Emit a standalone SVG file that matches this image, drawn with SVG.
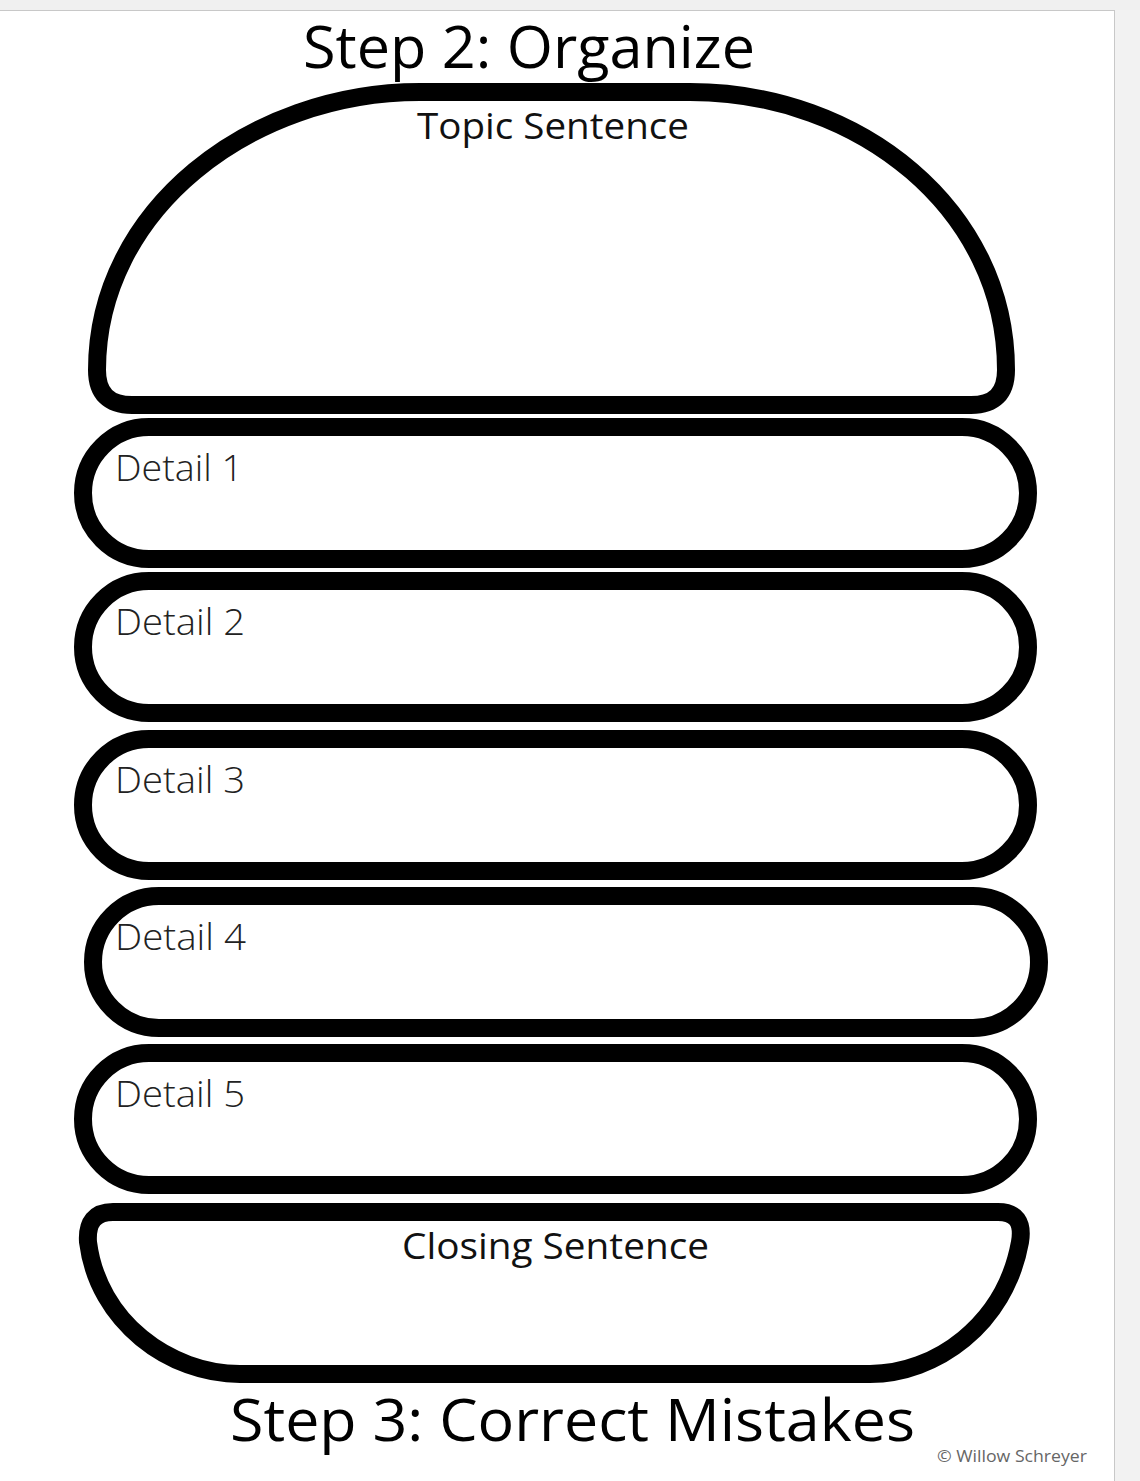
<svg xmlns="http://www.w3.org/2000/svg" width="1140" height="1481" viewBox="0 0 1140 1481">
<style>
.shape{fill:#fff;stroke:#000;stroke-width:18;stroke-linejoin:round}
.title{font-family:"Open Sans","Liberation Sans",sans-serif;font-size:58px;fill:#000}
.label{font-family:"Open Sans","Liberation Sans",sans-serif;font-size:36px;fill:#111}
.detail{font-family:"Open Sans","Liberation Sans",sans-serif;font-size:36px;font-weight:300;fill:#222}
.copy{font-family:"Open Sans","Liberation Sans",sans-serif;font-size:16px;fill:#666}
</style>
<rect x="0" y="0" width="1140" height="1481" fill="#fff"/>
<rect x="0" y="0" width="1140" height="10" fill="#f0f0f0"/>
<line x1="0" y1="10.5" x2="1140" y2="10.5" stroke="#c8c8c8" stroke-width="1"/>
<rect x="1115" y="10" width="25" height="1471" fill="#f2f2f2"/>
<line x1="1114.5" y1="10" x2="1114.5" y2="1481" stroke="#c8c8c8" stroke-width="1"/>

<g id="top-bun">
<path class="shape" d="M97,370 C97,210 250,92 420,92 L690,92 C860,92 1006,210 1006,370 Q1006,405 971,405 L132,405 Q97,405 97,370 Z"/>
<text class="label" x="417" y="139" textLength="272" lengthAdjust="spacingAndGlyphs">Topic Sentence</text>
</g>
<g id="detail-1">
<rect class="shape" x="83" y="427" width="945" height="132" rx="66"/>
<text class="detail" x="115" y="481" textLength="128" lengthAdjust="spacingAndGlyphs">Detail 1</text>
</g>
<g id="detail-2">
<rect class="shape" x="83" y="581" width="945" height="132" rx="66"/>
<text class="detail" x="115" y="635" textLength="130" lengthAdjust="spacingAndGlyphs">Detail 2</text>
</g>
<g id="detail-3">
<rect class="shape" x="83" y="739" width="945" height="132" rx="66"/>
<text class="detail" x="115" y="793" textLength="130" lengthAdjust="spacingAndGlyphs">Detail 3</text>
</g>
<g id="detail-4">
<rect class="shape" x="93" y="896" width="946" height="132" rx="66"/>
<text class="detail" x="115" y="950" textLength="131" lengthAdjust="spacingAndGlyphs">Detail 4</text>
</g>
<g id="detail-5">
<rect class="shape" x="83" y="1053" width="945" height="132" rx="66"/>
<text class="detail" x="115" y="1107" textLength="130" lengthAdjust="spacingAndGlyphs">Detail 5</text>
</g>
<g id="bottom-bun">
<path class="shape" d="M113,1212 L998,1212 Q1025,1212 1020,1242 C1005,1325 935,1374 870,1374 L240,1374 C170,1374 98,1322 88,1242 Q86,1212 113,1212 Z"/>
<text class="label" x="402" y="1259" textLength="307" lengthAdjust="spacingAndGlyphs">Closing Sentence</text>
</g>
<g id="connectors"></g>
<text class="title" x="303" y="68" textLength="452" lengthAdjust="spacingAndGlyphs">Step 2: Organize</text>
<text class="title" x="230" y="1441" font-size="60" textLength="685" lengthAdjust="spacingAndGlyphs">Step 3: Correct Mistakes</text>
<text class="copy" x="937" y="1462" textLength="150" lengthAdjust="spacingAndGlyphs">© Willow Schreyer</text>
</svg>
